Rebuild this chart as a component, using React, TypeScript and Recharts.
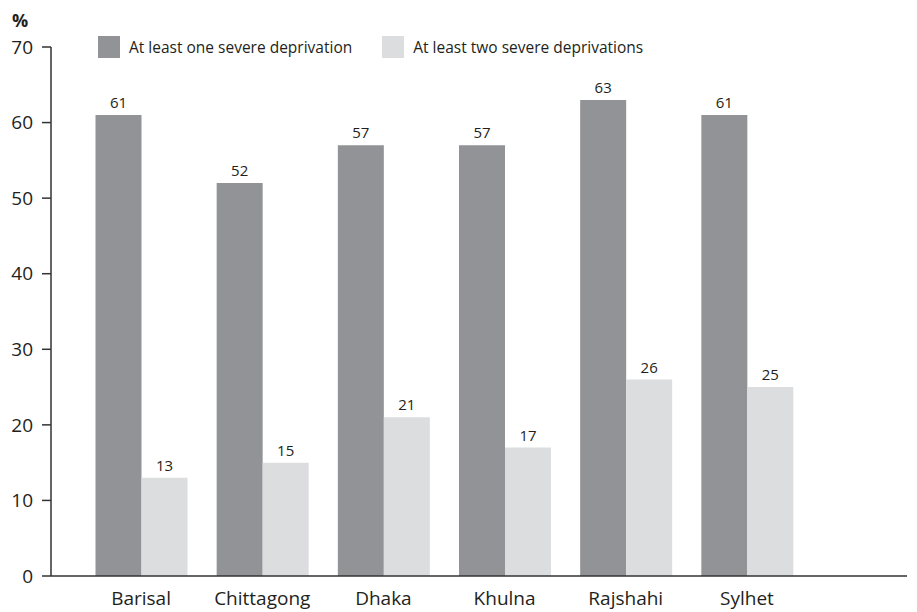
import React from 'react'
import { BarChart, Bar, XAxis, YAxis, LabelList } from 'recharts'

const divisions = ['Barisal', 'Chittagong', 'Dhaka', 'Khulna', 'Rajshahi', 'Sylhet']
const atLeastOne = [61, 52, 57, 57, 63, 61]
const atLeastTwo = [13, 15, 21, 17, 26, 25]
const yTicks = [0, 10, 20, 30, 40, 50, 60, 70]

const SERIES = [
  { key: 'one', name: 'At least one severe deprivation', color: '#929396' },
  { key: 'two', name: 'At least two severe deprivations', color: '#dcdddf' },
]

const FONT = '"Open Sans", "Noto Sans", sans-serif'
const INK = '#231f20'

const data = divisions.map((name, i) => ({ name, one: atLeastOne[i], two: atLeastTwo[i] }))

// legend sits over the plot, outside the chart's layout so it doesn't shrink the plot area
const LegendRow = () => (
  <div style={{ position: 'absolute', left: 98, top: 36, display: 'flex', alignItems: 'center', fontFamily: FONT, fontSize: 15.5, color: INK }}>
    {SERIES.map((s, i) => (
      <div key={s.key} style={{ display: 'flex', alignItems: 'center', marginRight: i === 0 ? 30 : 0 }}>
        <span style={{ width: 22, height: 22, background: s.color, display: 'inline-block', marginRight: 9 }} />
        <span>{s.name}</span>
      </div>
    ))}
  </div>
)

export default function App() {
  return (
    <div style={{ position: 'fixed', left: 0, top: 0, width: 917, height: 612, background: '#fff' }}>
      <BarChart
        width={917}
        height={612}
        data={data}
        margin={{ top: 47, right: 10, bottom: 6, left: 0 }}
        barGap={0}
      >
        <XAxis
          dataKey="name"
          height={30}
          axisLine={{ stroke: '#333', strokeWidth: 1.5 }}
          tickLine={false}
          tickMargin={9.5}
          padding={{ left: 29.5, right: 99.5 }}
          tick={{ fontFamily: FONT, fontSize: 19, fill: INK }}
          interval={0}
        />
        <YAxis
          domain={[0, 70]}
          ticks={yTicks}
          width={51}
          axisLine={{ stroke: '#333', strokeWidth: 1.5 }}
          tickLine={{ stroke: '#333', strokeWidth: 1.5 }}
          tickSize={9}
          tickMargin={9}
          tick={{ fontFamily: FONT, fontSize: 19, fill: INK }}
        />
        {SERIES.map((s) => (
          <Bar key={s.key} dataKey={s.key} name={s.name} fill={s.color} barSize={46} isAnimationActive={false}>
            <LabelList dataKey={s.key} position="top" offset={7} style={{ fontFamily: FONT, fontSize: 15, fill: INK }} />
          </Bar>
        ))}
      </BarChart>
      <div style={{ position: 'absolute', left: 12, top: 8, fontFamily: FONT, fontWeight: 700, fontSize: 18, color: INK }}>%</div>
      <LegendRow />
    </div>
  )
}
